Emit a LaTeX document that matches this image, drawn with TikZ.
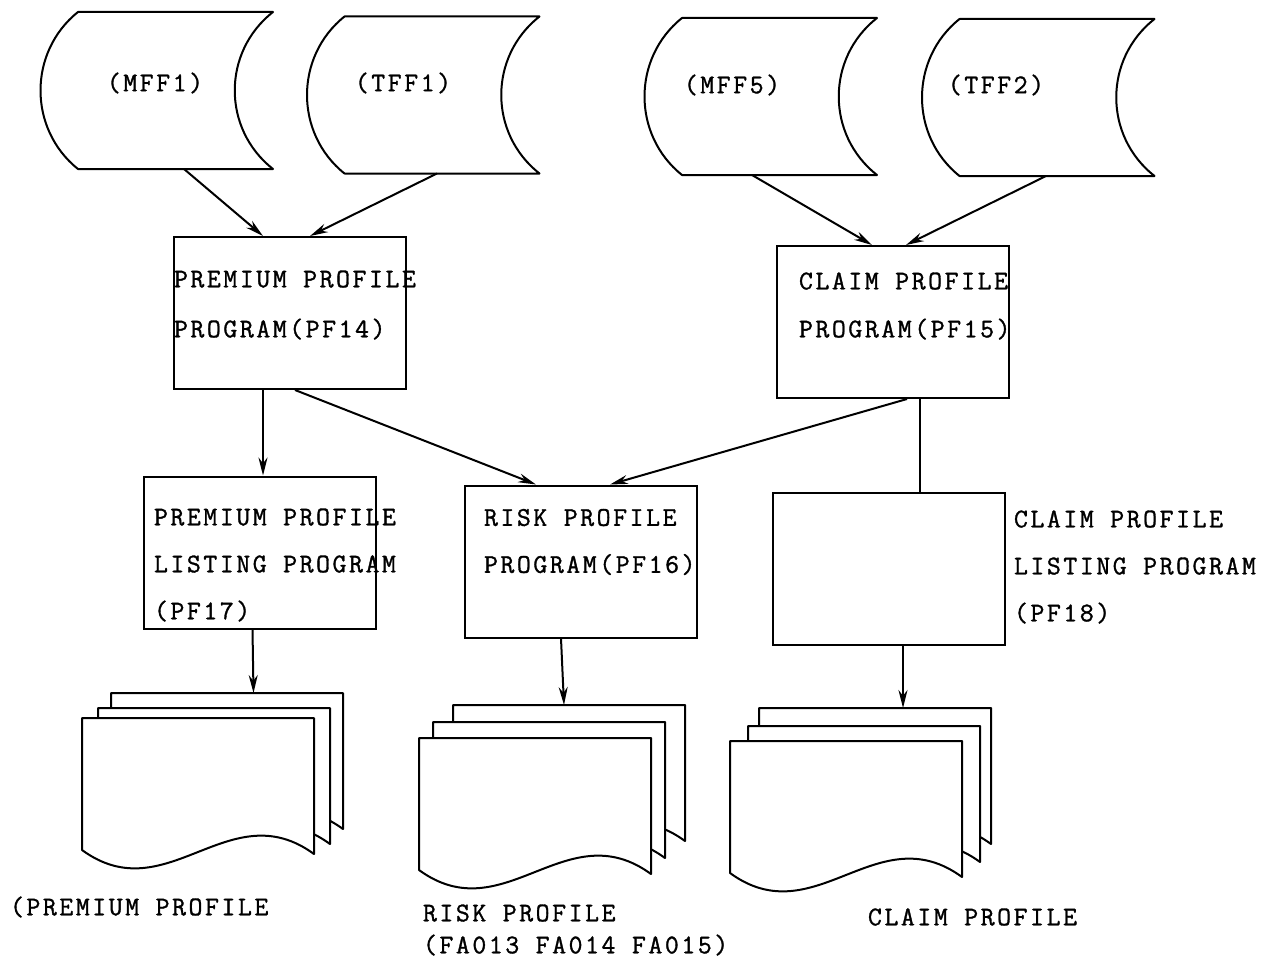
\documentclass[tikz,border=0pt]{standalone}
\usepackage{fontspec}
\setmonofont{Latin Modern Mono}[LetterSpace=9.5, FakeBold=1.2]
\usetikzlibrary{arrows.meta,positioning}

\begin{document}
\begin{tikzpicture}[x=1pt, y=-1pt, line width=2pt]
\tikzstyle{disk}    = [rectangle, minimum width=193pt, minimum height=155pt, inner sep=0pt]
\tikzstyle{block}   = [rectangle, minimum width=232pt, minimum height=152pt, inner sep=0pt, draw=black]
\tikzstyle{paper}   = [rectangle, minimum width=232pt, minimum height=134pt, inner sep=0pt, anchor=north west]
\tikzstyle{outline} = [fill=white, line join=round]
\tikzstyle{txt}     = [inner sep=0pt, anchor=west, align=left, font=\ttfamily\fontsize{27}{47}\selectfont]
\tikzstyle{arrow}   = [->, >={Stealth[length=18pt, width=9pt]}]
%
\useasboundingbox (0,0) rectangle (1279,963);
%
\node (mff1)    [disk]  at (175.5,90.5) {};
\node (tff1)    [disk]  at (442,95)     {};
\node (mff5)    [disk]  at (779.5,96.5) {};
\node (tff2)    [disk]  at (1057,97.5)  {};
%
\node (premium) [block] at (289.5,313)  {};
\node (claim)   [block] at (892.5,322)  {};
\node (plist)   [block] at (259.5,552.5) {};
\node (risk)    [block] at (581,561.5)  {};
\node (clist)   [block] at (889,569)    {};
%
\node (pdoc)    [paper] at (111,693)    {};
\node (rdoc)    [paper] at (453,705)    {};
\node (cdoc)    [paper] at (759,708)    {};
%
\foreach \n in {mff1,tff1,mff5,tff2}
  \draw [outline] (\n.north west) -- (\n.north east)
        .. controls +(-51,40) and +(-51,-40) .. (\n.south east)
        -- (\n.south west)
        .. controls +(-50,-40) and +(-50,40) .. (\n.north west) -- cycle;
%
\foreach \dx/\dy in {0/0,-13/15,-29/25}
  \draw [outline] ([shift={(\dx,\dy)}]pdoc.north west) -- ++(232,0) -- ++(0,136)
        .. controls +(-85,-62) and +(85,62) .. ++(-232,-4) -- cycle;
\foreach \dx/\dy in {0/0,-20/17,-34/33}
  \draw [outline] ([shift={(\dx,\dy)}]rdoc.north west) -- ++(232,0) -- ++(0,136)
        .. controls +(-85,-62) and +(85,62) .. ++(-232,-4) -- cycle;
\foreach \dx/\dy in {0/0,-11/18,-29/33}
  \draw [outline] ([shift={(\dx,\dy)}]cdoc.north west) -- ++(232,0) -- ++(0,136)
        .. controls +(-85,-62) and +(85,62) .. ++(-232,-4) -- cycle;
%
\node (mff1txt)    [txt, anchor=center] at (155,83) {(MFF1)};
\node (tff1txt)    [txt, anchor=center] at (403,83) {(TFF1)};
\node (mff5txt)    [txt, anchor=center] at (732,85) {(MFF5)};
\node (tff2txt)    [txt, anchor=center] at (996,85) {(TFF2)};
\node (premiumtxt) [txt, font=\ttfamily\fontsize{27}{50}\selectfont] at (173,305) {PREMIUM PROFILE\\PROGRAM(PF14)};
\node (claimtxt)   [txt, font=\ttfamily\fontsize{27}{48}\selectfont] at (798,306) {CLAIM PROFILE\\PROGRAM(PF15)};
\node (plisttxt)   [txt] at (153,565)  {PREMIUM PROFILE\\LISTING PROGRAM\\(PF17)};
\node (risktxt)    [txt] at (483,542)  {RISK PROFILE\\PROGRAM(PF16)};
\node (clisttxt)   [txt] at (1013,567) {CLAIM PROFILE\\LISTING PROGRAM\\(PF18)};
\node (plbl)       [txt] at (9,907)    {(PREMIUM PROFILE};
\node (rlbl)       [txt, font=\ttfamily\fontsize{27}{32}\selectfont] at (422,930) {RISK PROFILE\\(FA013 FA014 FA015)};
\node (clbl)       [txt] at (867,917)  {CLAIM PROFILE};
%
\draw [arrow] ([xshift=8.5pt]mff1.south)      -- ([xshift=-26.5pt]premium.north);
\draw [arrow] ([xshift=-5pt]tff1.south)       -- ([xshift=20.5pt]premium.north);
\draw [arrow] ([xshift=-27.5pt]mff5.south)    -- ([xshift=-20.5pt]claim.north);
\draw [arrow] ([xshift=-11pt]tff2.south)      -- ([xshift=13.5pt]claim.north);
\draw [arrow] ([xshift=-26.5pt]premium.south) -- ([xshift=3.5pt]plist.north);
\draw [arrow] ([xshift=5.5pt]premium.south)   -- ([xshift=-45pt]risk.north);
\draw [arrow] ([xshift=14.5pt]claim.south)    -- ([xshift=29pt]risk.north);
\draw         ([xshift=27.5pt]claim.south)    -- ([xshift=31pt]clist.north);
\draw [arrow] ([xshift=-7pt]plist.south)      -- ([xshift=25.5pt]pdoc.north);
\draw [arrow] ([xshift=-20pt]risk.south)      -- ([xshift=-6pt]rdoc.north);
\draw [arrow] ([xshift=14pt]clist.south)      -- ([xshift=27pt]cdoc.north);
\end{tikzpicture}
\end{document}
